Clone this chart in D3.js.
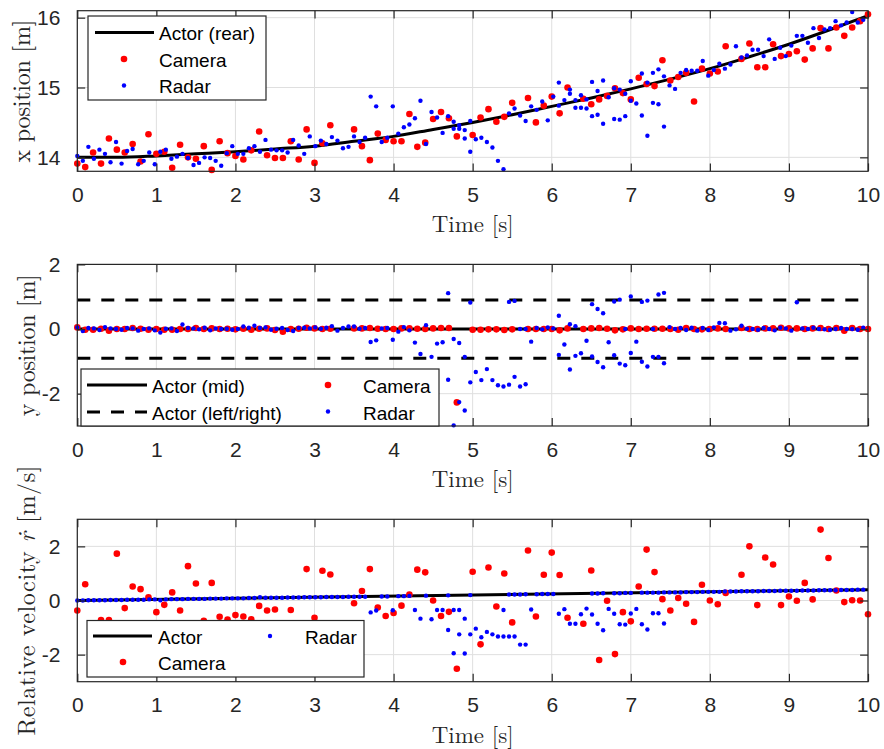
<!DOCTYPE html>
<html><head><meta charset="utf-8">
<script src="https://cdn.jsdelivr.net/npm/d3@7"></script>
<style>body{margin:0;background:#fff} svg{display:block}</style>
</head><body>
<svg id="chart" width="884" height="749"></svg>
<script>
// ---------------- DATA ----------------
const xTicks = [0,1,2,3,4,5,6,7,8,9,10];
const xPosTicks = [14,15,16];
const yPosTicks = [-2,0,2];
const velTicks = [-2,0,2];

const cameraPeriod = 0.1;   // s, camera sample spacing
const radarPeriod = 0.07;   // s, radar sample spacing

// Actor (rear) x position [m]
const actorTime = [0,0.5,1,1.5,2,2.5,3,3.5,4,4.5,5,5.5,6,6.5,7,7.5,8,8.5,9,9.5,10];
const actorX = [14.00,14.00,14.02,14.05,14.08,14.12,14.16,14.23,14.30,14.40,14.50,14.61,14.73,14.85,14.98,15.12,15.27,15.44,15.62,15.82,16.03];
// Actor y position [m]
const actorYTime = [0,10];
const actorYMid = [0,0];
const actorYLeft = [0.9,0.9];
const actorYRight = [-0.9,-0.9];
// Actor relative velocity [m/s]
const actorVelTime = [0,10];
const actorVel = [0.00,0.40];

// Camera (one sample per 0.1 s, null = no detection)
const cameraX = [13.91,13.86,14.07,13.91,14.27,14.11,14.07,14.19,13.94,14.33,
  14.05,14.08,13.85,14.18,14.00,13.98,14.16,13.82,14.23,14.06,
  14.02,13.97,14.10,14.37,14.03,13.99,13.99,14.23,13.97,14.40,
  13.92,14.20,14.46,null,null,14.40,14.16,13.96,14.34,14.25,
  14.23,14.23,14.62,14.15,14.21,14.55,14.65,14.56,14.30,null,
  14.32,14.57,14.69,14.51,14.58,14.78,null,14.85,14.50,14.74,
  14.87,14.63,15.00,null,14.84,14.76,14.83,14.88,14.99,14.92,
  14.83,15.14,15.05,15.02,15.39,15.10,15.15,15.21,14.80,15.27,
  15.20,15.23,15.59,null,15.41,15.63,15.29,15.29,15.62,15.45,
  15.48,15.52,15.40,15.56,15.85,15.56,15.86,15.74,15.86,15.95,16.05];
const cameraY = [0.05,-0.02,-0.02,0.01,-0.05,0.00,0.00,0.03,0.01,-0.02,
  0.00,-0.02,-0.02,0.00,0.00,0.03,0.00,0.02,0.00,0.01,
  -0.01,0.01,-0.02,0.01,0.02,-0.03,-0.08,0.00,0.01,0.04,
  0.02,0.00,0.01,null,null,0.02,0.02,0.03,0.01,0.00,
  0.00,0.02,0.02,0.01,0.00,0.02,0.03,0.03,-2.27,null,
  -0.02,-0.02,-0.01,-0.01,-0.03,-0.01,null,0.00,0.00,0.00,
  0.00,-0.04,0.02,null,0.00,0.02,0.03,0.01,-0.04,-0.01,
  0.02,0.00,0.01,0.01,0.01,0.00,-0.02,0.03,0.00,-0.01,
  0.00,0.02,0.00,null,0.03,0.00,0.00,0.02,0.02,0.04,
  0.02,0.02,0.00,0.02,0.03,0.00,0.03,-0.05,0.03,0.00,0.00];
const cameraVel = [-0.37,0.60,-1.00,-0.72,-0.72,1.73,-0.28,0.52,0.42,0.12,
  -0.43,-0.16,0.30,-0.37,1.27,0.63,-0.75,0.65,-0.60,-0.70,
  -0.54,-0.59,-0.69,-0.20,-0.37,-0.33,-1.20,-0.35,-1.50,1.16,
  -0.64,1.10,0.96,null,null,-0.10,0.35,1.16,-0.26,-0.57,
  -0.46,-0.19,0.22,1.14,1.04,0.00,-0.57,-0.42,-2.52,null,
  1.06,-1.62,1.22,-0.22,1.00,-0.81,null,1.85,-0.59,0.95,
  1.77,0.94,-0.64,null,-0.86,1.11,-2.20,-0.01,-1.98,-0.43,
  -0.77,0.52,1.88,1.05,0.05,-0.37,0.09,-0.12,-0.79,0.58,
  0.00,-0.14,0.28,null,0.95,2.00,-0.17,1.59,1.33,-0.17,
  0.15,-0.01,0.65,0.04,2.62,1.57,0.37,-0.06,0.01,0.00,-0.51];

// Radar (one primary detection per 0.07 s scan)
const radarX = [14.02,13.95,14.15,13.98,14.11,14.05,13.93,14.22,13.91,14.09,
  14.12,13.90,13.95,14.07,13.90,14.08,14.11,13.98,14.01,14.05,
  13.99,13.89,13.92,14.00,13.99,13.95,13.88,14.06,14.16,14.05,
  14.05,14.13,14.16,14.08,14.25,14.11,14.10,14.10,14.07,14.25,
  14.17,14.05,14.30,14.16,14.24,14.19,14.29,14.24,14.13,14.15,
  14.30,14.22,14.28,14.87,14.73,14.22,14.28,14.73,14.34,14.43,
  14.47,14.56,14.81,14.19,14.65,14.57,14.35,14.59,14.51,14.46,
  14.39,14.52,14.26,14.28,14.22,14.14,13.95,13.83,14.63,14.70,
  14.60,14.52,14.73,14.68,14.80,14.53,14.87,15.07,14.82,14.91,
  14.71,14.71,14.70,15.08,14.95,15.10,14.86,14.99,14.97,14.91,
  15.09,14.77,15.20,15.07,15.21,15.26,15.16,15.03,14.98,15.21,
  15.25,15.24,15.24,15.38,15.17,15.25,15.34,15.27,15.33,15.59,
  15.43,15.46,15.54,15.54,15.45,15.69,15.41,15.57,15.45,15.60,
  15.74,15.74,15.64,15.85,15.71,15.83,15.85,15.95,15.89,15.93,
  16.08,15.93,15.97];
const radarY = [0.05,-0.06,0.03,0.02,-0.03,0.06,0.02,0.00,-0.02,0.03,
  0.02,-0.05,0.00,0.02,-0.04,-0.11,0.01,0.02,-0.06,0.14,
  0.03,0.02,-0.01,0.04,-0.04,0.02,0.00,0.01,-0.02,0.00,
  0.08,0.04,0.10,0.03,0.05,-0.02,0.01,0.03,-0.03,-0.06,
  0.03,0.04,0.02,0.05,0.01,0.04,0.09,-0.05,0.03,0.08,
  0.08,0.01,0.03,-0.40,-0.35,0.02,0.03,-0.33,-0.08,0.06,
  -0.04,-0.42,-0.77,0.12,-0.86,-0.45,-0.41,1.11,-0.31,-0.43,
  -0.86,0.82,-1.33,-1.58,-1.24,-1.58,-1.74,-1.78,0.84,0.87,
  -1.78,-1.71,-0.39,0.03,-0.01,0.05,0.02,0.41,-0.48,-1.25,
  -0.83,-0.75,-0.36,0.77,0.62,0.49,-0.41,0.85,0.91,-1.12,
  1.01,-0.39,0.84,0.88,-0.86,1.07,1.12,0.06,0.00,0.03,
  -0.03,0.04,-0.05,0.03,-0.03,0.05,0.19,0.18,-0.05,-0.01,
  0.10,0.01,0.00,-0.02,0.03,0.00,-0.04,0.04,0.02,-0.05,
  0.83,0.02,0.00,0.04,0.00,-0.01,-0.02,0.00,0.03,0.00,
  0.00,-0.02,0.04];
const radarVel = [0.00,0.00,0.01,0.01,0.01,0.01,0.02,0.02,0.02,0.03,
  0.03,0.03,0.03,0.04,0.04,0.01,0.04,0.05,0.05,0.05,
  0.06,0.06,0.06,0.06,0.07,0.07,0.07,0.08,0.08,0.08,
  0.08,0.09,0.09,0.12,0.10,0.10,0.10,0.10,0.11,0.11,
  0.11,0.12,0.12,0.12,0.12,0.13,0.13,0.13,0.13,0.14,
  0.14,0.14,0.14,-0.44,-0.37,0.15,0.15,-0.36,0.16,0.16,
  0.17,-0.35,-0.67,0.18,-0.69,-0.35,-0.35,-1.09,-0.35,-0.35,
  -0.67,-1.25,-1.04,-1.36,-1.16,-1.25,-1.33,-1.33,-1.33,-1.33,
  -1.63,-1.63,-0.33,0.23,0.24,0.24,0.24,-0.49,-0.32,-0.86,
  -0.86,-0.51,-0.30,-0.52,-0.86,-1.10,-0.31,-0.49,-0.88,-0.89,
  -0.48,-0.31,-0.88,-1.07,-0.47,-0.47,-0.85,0.30,0.30,0.30,
  0.31,0.31,0.31,0.32,0.32,0.32,0.32,0.33,0.33,0.33,
  0.34,0.34,0.34,0.34,0.35,0.35,0.35,0.36,0.36,0.36,
  0.36,0.37,0.37,0.37,0.38,0.38,0.38,0.38,0.39,0.39,
  0.39,0.40,0.40];

// Radar secondary detections (time [s], value)
const radarXExtraTime = [4.76,4.83,4.90,4.97,6.09,6.23,6.30,6.37,6.44,6.51,6.58,6.65,6.79,6.86,6.93,7.00,7.14,7.21,7.28,7.35,7.42];
const radarXExtra = [14.41,14.41,14.27,14.08,14.74,14.97,14.82,14.89,14.83,14.59,14.61,14.48,14.55,14.54,14.59,14.81,14.60,14.31,14.78,14.76,14.44];
const radarYExtraTime = [4.69,4.76,4.83,4.90,4.97,5.46,5.53,5.60,5.67,6.09,6.23,6.30,6.51,6.58,6.65,6.79,6.86,6.93,7.00,7.14,7.21,7.28,7.35,7.42];
const radarYExtra = [-1.57,-2.98,-2.26,-2.52,-1.65,-1.72,-1.48,0.00,0.00,-0.80,0.15,0.09,-0.85,-1.02,-1.18,-0.81,-1.07,0.00,-0.74,-1.01,-1.16,0.00,-0.86,-1.06];
const radarVelExtraTime = [4.69,4.97,5.46,5.53,5.60,5.67,6.51,6.58,6.65,6.79,6.86,6.93,7.00,7.14,7.21,7.28,7.35,7.42,4.76,4.83,4.90,5.39];
const radarVelExtra = [0.19,0.20,0.22,0.22,0.22,0.23,0.26,0.26,0.27,0.27,0.27,0.28,0.28,0.29,0.29,0.29,0.29,0.30,-1.95,-1.25,-1.96,-0.35];

// ---------------- DRAWING ----------------
const svg = d3.select("#chart");
const LEFT = 77.3, RIGHT = 868;
const AX = "#262626", GRID = "#dfdfdf";
const SANS = "'Liberation Sans', Arial, Helvetica, sans-serif";
const SERIF = "'Latin Modern Roman','CMU Serif','Liberation Serif','Times New Roman',serif";
const x = d3.scaleLinear().domain([0,10]).range([LEFT, RIGHT]);

function zipSeries(vals, period){ return vals.map((v,i)=>({t:i*period, v})).filter(d=>d.v!==null); }
function zipPairs(ts, vs){ return ts.map((t,i)=>({t, v:vs[i]})); }

function panel(cfg){
  const g = svg.append("g");
  const y = d3.scaleLinear().domain(cfg.domain).range([cfg.bottom, cfg.top]);
  const id = "clip"+cfg.name;
  svg.append("clipPath").attr("id", id).append("rect")
    .attr("x", LEFT).attr("y", cfg.top).attr("width", RIGHT-LEFT).attr("height", cfg.bottom-cfg.top);
  // grid
  g.append("g").selectAll("line").data(xTicks).join("line")
    .attr("x1", d=>x(d)).attr("x2", d=>x(d)).attr("y1", cfg.top).attr("y2", cfg.bottom)
    .attr("stroke", GRID).attr("stroke-width", 1);
  g.append("g").selectAll("line").data(cfg.ticks).join("line")
    .attr("x1", LEFT).attr("x2", RIGHT).attr("y1", d=>y(d)).attr("y2", d=>y(d))
    .attr("stroke", GRID).attr("stroke-width", 1);
  const plot = g.append("g").attr("clip-path", `url(#${id})`);
  const line = d3.line().x(d=>x(d.t)).y(d=>y(d.v));
  cfg.lines.forEach(L=>{
    plot.append("path").datum(zipPairs(L.t, L.v))
      .attr("d", line.curve(L.curve || d3.curveLinear))
      .attr("fill","none").attr("stroke","#000").attr("stroke-width",3)
      .attr("stroke-dasharray", L.dash || null);
  });
  const dots = g.append("g");
  dots.append("g").selectAll("circle").data(cfg.camera).join("circle")
    .attr("cx", d=>x(d.t)).attr("cy", d=>y(d.v)).attr("r", 3.3).attr("fill", "#ff0000");
  dots.append("g").selectAll("circle").data(cfg.radar).join("circle")
    .attr("cx", d=>x(d.t)).attr("cy", d=>y(d.v)).attr("r", 2.2).attr("fill", "#0000ff");
  // box
  g.append("rect").attr("x", LEFT).attr("y", cfg.top).attr("width", RIGHT-LEFT).attr("height", cfg.bottom-cfg.top)
    .attr("fill","none").attr("stroke", AX).attr("stroke-width", 1.2);
  // axes with inward ticks
  const tl = 7.9;
  const bx = d3.axisBottom(x).tickValues(xTicks).tickSize(-tl).tickPadding(tl+8).tickFormat(d3.format("d"));
  const tx = d3.axisTop(x).tickValues(xTicks).tickSize(-tl).tickFormat("");
  const ly = d3.axisLeft(y).tickValues(cfg.ticks).tickSize(-tl).tickPadding(tl+9).tickFormat(d=>d<0?"-"+Math.abs(d):d);
  const ry = d3.axisRight(y).tickValues(cfg.ticks).tickSize(-tl).tickFormat("");
  [[bx,`translate(0,${cfg.bottom})`],[tx,`translate(0,${cfg.top})`],[ly,`translate(${LEFT},0)`],[ry,`translate(${RIGHT},0)`]].forEach(([a,tr])=>{
    const ag = g.append("g").attr("transform", tr).call(a);
    ag.select(".domain").remove();
    ag.selectAll(".tick line").attr("stroke", AX).attr("stroke-width", 1.2);
    ag.selectAll("text").attr("fill", AX).style("font-family", SANS).style("font-size","21px");
  });
  // x label
  g.append("text").attr("x", (LEFT+RIGHT)/2).attr("y", cfg.bottom+61)
    .attr("text-anchor","middle").style("font-family",SERIF).style("font-size","23px").attr("fill", AX)
    .text("Time [s]");
  // y label
  const yl = g.append("text").attr("transform", `translate(${cfg.ylabelX},${(cfg.top+cfg.bottom)/2}) rotate(-90)`)
    .attr("text-anchor","middle").style("font-family",SERIF).style("font-size","24px").attr("fill", AX)
    .attr("textLength", cfg.ylabelLen).attr("lengthAdjust","spacing");
  cfg.ylabel.forEach(p=>{ const s = yl.append("tspan").text(p.s); if(p.it) s.style("font-style","italic"); });
  return {g, y};
}

function legendBox(rx, ry, w, h){
  svg.append("rect").attr("x", rx).attr("y", ry).attr("width", w).attr("height", h)
    .attr("fill","#fff").attr("stroke", AX).attr("stroke-width", 1.2);
}
function legText(tx, ty, s){
  svg.append("text").attr("x", tx).attr("y", ty).text(s)
    .style("font-family", SANS).style("font-size","19px").attr("fill","#000");
}
function legLine(x1, x2, yy, dash){
  svg.append("line").attr("x1",x1).attr("x2",x2).attr("y1",yy).attr("y2",yy)
    .attr("stroke","#000").attr("stroke-width",3).attr("stroke-dasharray", dash||null);
}
function legDot(cx, cy, r, c){ svg.append("circle").attr("cx",cx).attr("cy",cy).attr("r",r).attr("fill",c); }

// Panel 1: x position
panel({name:"p1", top:10.7, bottom:171.3, domain:[13.8,16.1], ticks:xPosTicks, ylabelX:30, ylabelLen:143,
  ylabel:[{s:"x position [m]"}],
  lines:[{t:actorTime, v:actorX, curve:d3.curveMonotoneX}],
  camera: zipSeries(cameraX, cameraPeriod),
  radar: zipSeries(radarX, radarPeriod).concat(zipPairs(radarXExtraTime, radarXExtra))});
legendBox(88, 16, 178, 84);
legLine(95, 154, 32.5); legText(159, 40, "Actor (rear)");
legDot(124, 59, 3.3, "#ff0000"); legText(159, 66.5, "Camera");
legDot(124, 85.5, 2.2, "#0000ff"); legText(159, 93, "Radar");

// Panel 2: y position
panel({name:"p2", top:264.4, bottom:426, domain:[-3,2], ticks:yPosTicks, ylabelX:35, ylabelLen:142,
  ylabel:[{s:"y position [m]"}],
  lines:[{t:actorYTime, v:actorYMid},{t:actorYTime, v:actorYLeft, dash:"13,11"},{t:actorYTime, v:actorYRight, dash:"13,11"}],
  camera: zipSeries(cameraY, cameraPeriod),
  radar: zipSeries(radarY, radarPeriod).concat(zipPairs(radarYExtraTime, radarYExtra))});
legendBox(81, 369, 358, 57);
legLine(87, 147, 385); legText(152, 393, "Actor (mid)");
legLine(87, 147, 412, "13,11"); legText(152, 419.5, "Actor (left/right)");
legDot(328, 385, 3.3, "#ff0000"); legText(363, 393, "Camera");
legDot(328, 411.5, 2.2, "#0000ff"); legText(363, 419.5, "Radar");

// Panel 3: relative velocity
panel({name:"p3", top:519.3, bottom:681.7, domain:[-3,3], ticks:velTicks, ylabelX:35, ylabelLen:270,
  ylabel:[{s:"Relative velocity "},{s:"ṙ", it:true},{s:" [m/s]"}],
  lines:[{t:actorVelTime, v:actorVel}],
  camera: zipSeries(cameraVel, cameraPeriod),
  radar: zipSeries(radarVel, radarPeriod).concat(zipPairs(radarVelExtraTime, radarVelExtra))});
legendBox(87, 620.5, 277, 56.5);
legLine(93, 152, 636); legText(158, 644, "Actor");
legDot(270, 636, 2.2, "#0000ff"); legText(305, 644, "Radar");
legDot(123, 662, 3.3, "#ff0000"); legText(158, 670, "Camera");
</script>
</body></html>
